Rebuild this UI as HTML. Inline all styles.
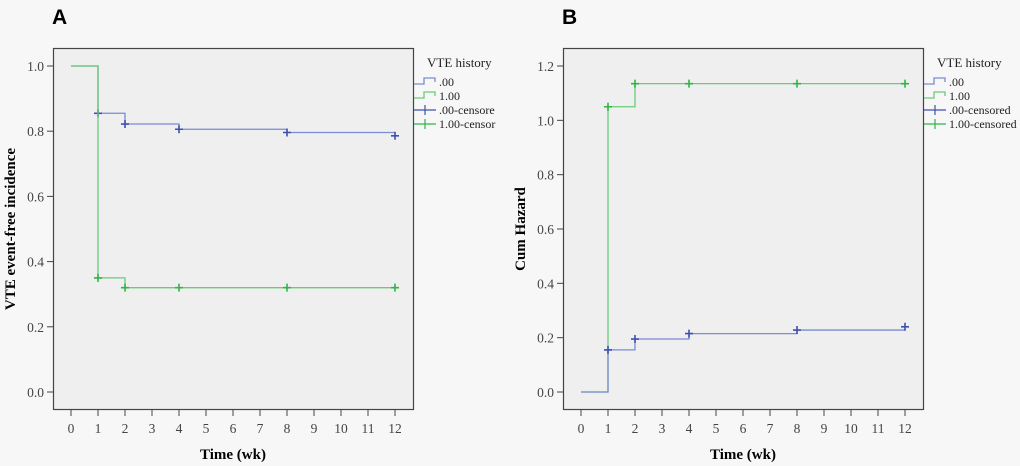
<!DOCTYPE html>
<html><head><meta charset="utf-8"><style>
html,body{margin:0;padding:0;background:#f7f7f7;}
svg{display:block;}
</style></head><body>
<svg id="chart" width="1020" height="466" xmlns="http://www.w3.org/2000/svg"></svg>
<script>
// ---- data ----
const weekTicks = [0,1,2,3,4,5,6,7,8,9,10,11,12];
const aYTicks = [0.0,0.2,0.4,0.6,0.8,1.0];
const bYTicks = [0.0,0.2,0.4,0.6,0.8,1.0,1.2];
// Panel A: survival steps (time, value)
const aBlueTimes = [0,1,2,4,8,12];
const aBlueVals  = [1.0,0.855,0.822,0.806,0.796,0.786];
const aGreenTimes = [0,1,2,4,8,12];
const aGreenVals  = [1.0,0.35,0.32,0.32,0.32,0.32];
const aBlueCens = [1,2,4,8,12];
const aGreenCens = [1,2,4,8,12];
// Panel B: cumulative hazard
const bBlueTimes = [0,1,2,4,8,12];
const bBlueVals  = [0,0.155,0.195,0.215,0.228,0.24];
const bGreenTimes = [0,1,2,4,8,12];
const bGreenVals  = [0,1.05,1.135,1.135,1.135,1.135];
const bBlueCens = [1,2,4,8,12];
const bGreenCens = [1,2,4,8,12];

const NS="http://www.w3.org/2000/svg";
const svg=document.getElementById('chart');
function mk(tag,attrs,parent,text){const e=document.createElementNS(NS,tag);for(const k in attrs)e.setAttribute(k,attrs[k]);if(text!==undefined)e.textContent=text;(parent||svg).appendChild(e);return e;}
const BLUE="#7b8bd4", BLUED="#3f51b0", GREEN="#6acb78", GREEND="#2fb544";

function panel(ox, label, ymax, yTicks, yTitle, series, legendSuffix){
  const g=mk('g',{});
  
  
  const x=t=>ox+71+t*27;
  const y=v=>392-v*(326/ymax);
  const lab=mk('text',{x:ox+52,y:24,'font-family':'Liberation Sans, sans-serif','font-weight':'bold','font-size':'21'},g,label);
  
  
  const box=mk('rect',{x:ox+53.5,y:48.5,width:360,height:361,fill:'#efefef',stroke:'#444','stroke-width':1.2},g);
  
  
  yTicks.forEach(v=>{
    mk('line',{x1:ox+47,x2:ox+53,y1:y(v),y2:y(v),stroke:'#444'},g);
    const t=mk('text',{x:ox+44,y:y(v)+5,'text-anchor':'end','font-family':'Liberation Serif, serif','font-size':'13.5',fill:'#444'},g,v.toFixed(1));
    
    
  });
  weekTicks.forEach(w=>{
    mk('line',{x1:x(w),x2:x(w),y1:410,y2:416,stroke:'#444'},g);
    const t=mk('text',{x:x(w),y:433,'text-anchor':'middle','font-family':'Liberation Serif, serif','font-size':'13.5',fill:'#444'},g,String(w));
    
    
  });
  const xt=mk('text',{x:ox+233,y:459,'text-anchor':'middle','font-family':'Liberation Serif, serif','font-weight':'bold','font-size':'15'},g,'Time (wk)');
  
  
  const yt=mk('text',{x:0,y:0,transform:`translate(${ox+15},229) rotate(-90)`,'text-anchor':'middle','font-family':'Liberation Serif, serif','font-weight':'bold','font-size':'15'},g,yTitle);
  
  
  series.forEach(s=>{
    let d=`M${x(s.times[0])},${y(s.vals[0])}`;
    for(let i=1;i<s.times.length;i++){
      const last = i===s.times.length-1;
      if(last){ d+=` H${x(s.times[i])}`; }
      else { d+=` H${x(s.times[i])} V${y(s.vals[i])}`; }
    }
    const p=mk('path',{d:d,fill:'none',stroke:s.color,'stroke-width':1.3},g);
    
    
    s.cens.forEach(c=>{
      const i=s.times.indexOf(c);
      const v=s.vals[i];
      const m=mk('path',{d:`M${x(c)-4},${y(v)} H${x(c)+4} M${x(c)},${y(v)-4} V${y(v)+4}`,stroke:s.dark,'stroke-width':1.6},g);
      
      
    });
  });
  // legend
  const lg=mk('g',{},g);
  
  
  const lx=ox+414;
  mk('text',{x:ox+427,y:67,'font-family':'Liberation Serif, serif','font-size':'13',fill:'#222'},lg,'VTE history');
  const entries=[['.00',BLUE,'step'],['1.00',GREEN,'step'],['.00-'+legendSuffix,BLUED,'cross'],['1.00-'+legendSuffix2(legendSuffix),GREEND,'cross']];
  entries.forEach((e,i)=>{
    const yy=82+i*14;
    if(e[2]==='step') mk('path',{d:`M${lx},${yy+2} H${lx+10} V${yy-4} H${lx+21} V${yy}`,fill:'none',stroke:e[1],'stroke-width':1.3},lg);
    else mk('path',{d:`M${lx},${yy} H${lx+22} M${lx+11},${yy-5} V${yy+5}`,stroke:e[1],'stroke-width':1.2},lg);
    const t=mk('text',{x:lx+25,y:yy+4,'font-family':'Liberation Serif, serif','font-size':'12',fill:'#222'},lg,e[0]);
    
    
  });
}
let suffix2='';
function legendSuffix2(s){return suffix2||s;}

suffix2='censor';
panel(0,'A',1.0,aYTicks,'VTE event-free incidence',[
  {name:'group-00',times:aBlueTimes,vals:aBlueVals,cens:aBlueCens,color:BLUE,dark:BLUED},
  {name:'group-100',times:aGreenTimes,vals:aGreenVals,cens:aGreenCens,color:GREEN,dark:GREEND}
],'censore');
suffix2='censored';
panel(510,'B',1.2,bYTicks,'Cum Hazard',[
  {name:'group-100',times:bGreenTimes,vals:bGreenVals,cens:bGreenCens,color:GREEN,dark:GREEND},
  {name:'group-00',times:bBlueTimes,vals:bBlueVals,cens:bBlueCens,color:BLUE,dark:BLUED}
],'censored');
</script>
</body></html>
